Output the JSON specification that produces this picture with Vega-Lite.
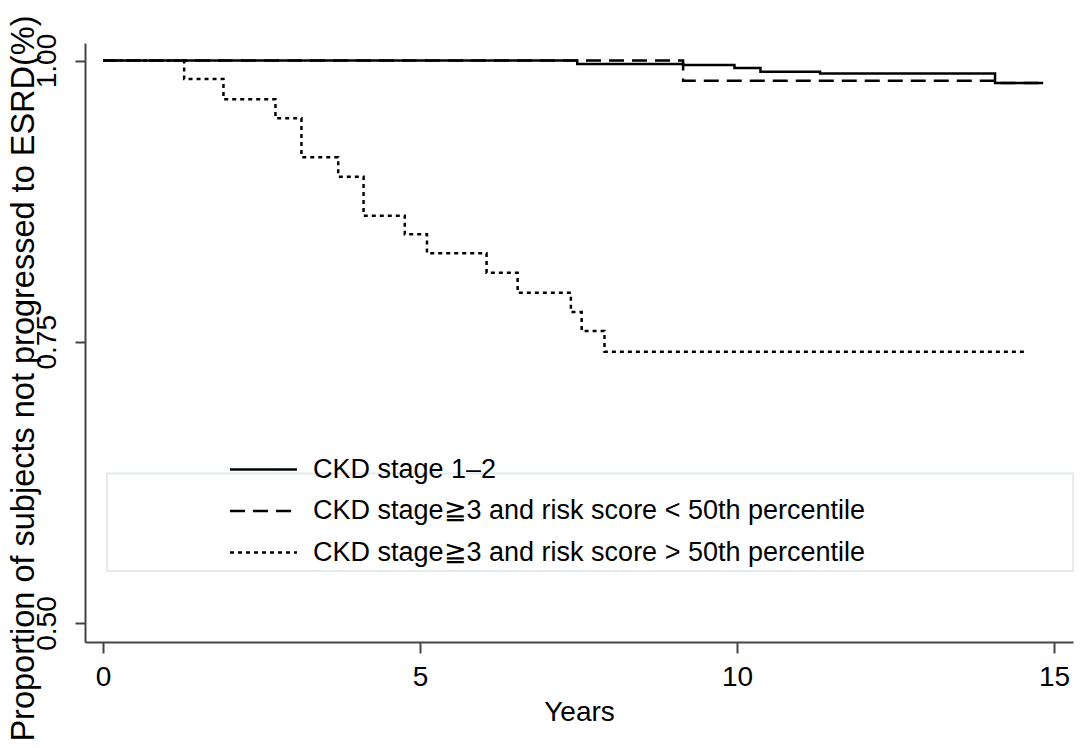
{
  "$schema": "https://vega.github.io/schema/vega-lite/v6.json",
  "width": 988,
  "height": 599,
  "autosize": {"type": "none"},
  "padding": {"left": 85, "top": 43, "right": 13, "bottom": 106},
  "background": "white",
  "config": {
    "view": {"stroke": null},
    "font": "Liberation Sans",
    "axis": {
      "grid": false,
      "domainColor": "#444444",
      "domainWidth": 2,
      "tickColor": "#444444",
      "tickWidth": 2,
      "tickSize": 11,
      "labelColor": "black",
      "titleColor": "black",
      "labelFont": "Liberation Sans",
      "titleFont": "Liberation Sans",
      "labelFontSize": 28,
      "titleFontSize": 28,
      "titleFontWeight": "normal"
    }
  },
  "datasets": {
    "km": [
      {"group": "CKD stage 1–2", "t": 0, "s": 1.0},
      {"group": "CKD stage 1–2", "t": 7.48, "s": 0.997},
      {"group": "CKD stage 1–2", "t": 9.15, "s": 0.996},
      {"group": "CKD stage 1–2", "t": 9.96, "s": 0.9933},
      {"group": "CKD stage 1–2", "t": 10.37, "s": 0.990},
      {"group": "CKD stage 1–2", "t": 11.31, "s": 0.9885},
      {"group": "CKD stage 1–2", "t": 14.07, "s": 0.980},
      {"group": "CKD stage 1–2", "t": 14.83, "s": 0.980},
      {"group": "CKD stage≧3 and risk score < 50th percentile", "t": 0, "s": 1.0},
      {"group": "CKD stage≧3 and risk score < 50th percentile", "t": 9.15, "s": 0.982},
      {"group": "CKD stage≧3 and risk score < 50th percentile", "t": 14.07, "s": 0.980},
      {"group": "CKD stage≧3 and risk score < 50th percentile", "t": 14.83, "s": 0.980},
      {"group": "CKD stage≧3 and risk score > 50th percentile", "t": 0, "s": 1.0},
      {"group": "CKD stage≧3 and risk score > 50th percentile", "t": 1.28, "s": 0.9836},
      {"group": "CKD stage≧3 and risk score > 50th percentile", "t": 1.90, "s": 0.9655},
      {"group": "CKD stage≧3 and risk score > 50th percentile", "t": 2.72, "s": 0.9486},
      {"group": "CKD stage≧3 and risk score > 50th percentile", "t": 3.13, "s": 0.914},
      {"group": "CKD stage≧3 and risk score > 50th percentile", "t": 3.71, "s": 0.8967},
      {"group": "CKD stage≧3 and risk score > 50th percentile", "t": 4.11, "s": 0.862},
      {"group": "CKD stage≧3 and risk score > 50th percentile", "t": 4.76, "s": 0.8455},
      {"group": "CKD stage≧3 and risk score > 50th percentile", "t": 5.11, "s": 0.8286},
      {"group": "CKD stage≧3 and risk score > 50th percentile", "t": 6.05, "s": 0.8114},
      {"group": "CKD stage≧3 and risk score > 50th percentile", "t": 6.54, "s": 0.7936},
      {"group": "CKD stage≧3 and risk score > 50th percentile", "t": 7.38, "s": 0.7764},
      {"group": "CKD stage≧3 and risk score > 50th percentile", "t": 7.55, "s": 0.7596},
      {"group": "CKD stage≧3 and risk score > 50th percentile", "t": 7.91, "s": 0.7412},
      {"group": "CKD stage≧3 and risk score > 50th percentile", "t": 14.56, "s": 0.7412}
    ],
    "box": [{"x1": 0.063, "x2": 15.3, "y1": 0.5462, "y2": 0.633}]
  },
  "layer": [
    {
      "data": {"name": "box"},
      "mark": {"type": "rect", "fill": null, "stroke": "#e4eaee", "strokeWidth": 2},
      "encoding": {
        "x": {"field": "x1", "type": "quantitative", "scale": {"domain": [-0.284, 15.3], "nice": false, "zero": false}},
        "x2": {"field": "x2"},
        "y": {"field": "y1", "type": "quantitative", "scale": {"domain": [0.4831, 1.0156], "nice": false, "zero": false}},
        "y2": {"field": "y2"}
      }
    },
    {
      "data": {"name": "km"},
      "mark": {"type": "line", "interpolate": "step-after", "color": "black", "strokeWidth": 2.5},
      "encoding": {
        "x": {
          "field": "t", "type": "quantitative",
          "scale": {"domain": [-0.284, 15.3], "nice": false, "zero": false},
          "axis": {
            "values": [0, 5, 10, 15],
            "format": "d",
            "title": "Years",
            "labelBaseline": "alphabetic",
            "labelPadding": 32,
            "titleX": 494,
            "titleY": 78,
            "titleBaseline": "alphabetic",
            "titleAlign": "center"
          }
        },
        "y": {
          "field": "s", "type": "quantitative",
          "scale": {"domain": [0.4831, 1.0156], "nice": false, "zero": false},
          "axis": {
            "values": [0.5, 0.75, 1.0],
            "format": ".2f",
            "labelAngle": -90,
            "labelAlign": "center",
            "labelBaseline": "alphabetic",
            "labelPadding": 20,
            "tickSize": 10,
            "title": "Proportion of subjects not progressed to ESRD(%)",
            "titleFontSize": 32.5,
            "titleAngle": -90,
            "titleX": -52,
            "titleY": 335,
            "titleAlign": "center",
            "titleBaseline": "alphabetic"
          }
        },
        "strokeDash": {
          "field": "group", "type": "nominal",
          "scale": {
            "domain": ["CKD stage 1–2", "CKD stage≧3 and risk score < 50th percentile", "CKD stage≧3 and risk score > 50th percentile"],
            "range": [[1, 0], [15, 8], [4, 4]]
          },
          "legend": {
            "title": null,
            "orient": "none",
            "legendX": 165,
            "legendY": 413,
            "symbolType": "M-4,0H4",
            "symbolSize": 280.6,
            "symbolStrokeWidth": 2.5,
            "symbolStrokeColor": "black",
            "symbolFillColor": "transparent",
            "labelFont": "Liberation Sans",
            "labelFontSize": 27,
            "labelColor": "black",
            "labelOffset": 36,
            "labelLimit": 900,
            "rowPadding": 13.5,
            "padding": 0
          }
        }
      }
    }
  ]
}
